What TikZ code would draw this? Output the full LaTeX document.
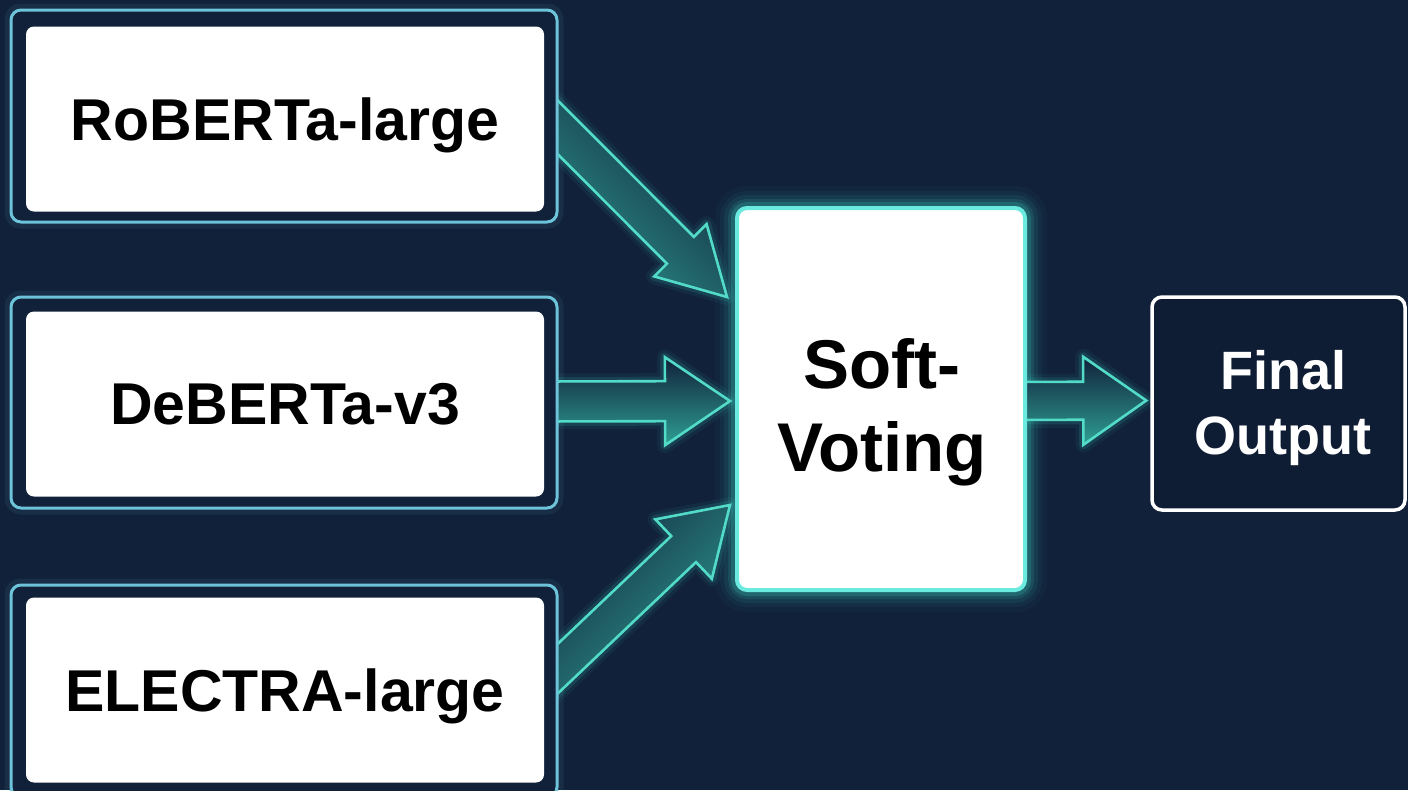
\documentclass[tikz,border=0pt]{standalone}
\usepackage{fontspec}
\setmainfont{Liberation Sans}
\usetikzlibrary{calc}

\definecolor{bgnavy}{HTML}{11213A}
\definecolor{framecol}{HTML}{6CC3DA}
\definecolor{glowcyan}{HTML}{3FE0D0}
\definecolor{svedge}{HTML}{6BEBE0}
\definecolor{arrowline}{HTML}{52DCC8}
\definecolor{arrowfill}{HTML}{2E9F93}
\definecolor{outfill}{HTML}{0F1D34}

\pgfdeclarelayer{backdrop}
\pgfdeclarelayer{glow}
\pgfsetlayers{backdrop,glow,main}

\tikzset{
  frame/.style={draw=framecol, line width=3pt, fill=bgnavy, rounded corners=10pt,
    minimum width=546pt, inner sep=0pt},
  model/.style={fill=white, rounded corners=8pt, minimum width=518pt, inner sep=0pt,
    text depth=0pt, text=black, font=\fontsize{59}{66}\selectfont\bfseries},
  votebox/.style={draw=svedge, line width=4pt, fill=white, rounded corners=10pt,
    minimum width=288pt, minimum height=382pt, inner sep=0pt},
  votetext/.style={align=center, inner sep=0pt, text=black,
    font=\fontsize{69}{83}\selectfont\bfseries},
  outbox/.style={draw=white, line width=3.5pt, fill=outfill, rounded corners=10pt,
    minimum width=253pt, minimum height=213pt, inner sep=0pt},
  outtext/.style={align=center, inner sep=0pt, text=white,
    font=\fontsize{54}{65}\selectfont\bfseries},
  arrowedge/.style={draw=arrowline, line width=2.6pt, line join=miter},
}

% block arrow: #1 tail, #2 tip, #3 half shaft width, #4 half head width,
% #5 head length, #6 shading angle
\newcommand\blockarrow[6]{%
  \coordinate (hb) at ($(#2)!#5pt!(#1)$);
  \foreach \gw/\go in {16/0.06, 9/0.12} {
    \path[draw=glowcyan, line width=\gw pt, opacity=\go, line join=round]
      ($(#1)!#3pt!90:(#2)$) -- ($(hb)!#3pt!90:(#2)$) -- ($(hb)!#4pt!90:(#2)$) --
      (#2) -- ($(hb)!#4pt!-90:(#2)$) -- ($(hb)!#3pt!-90:(#2)$) --
      ($(#1)!#3pt!-90:(#2)$) -- cycle;
  }
  \shade[arrowedge, left color=bgnavy, right color=arrowfill, shading angle=#6]
    ($(#1)!#3pt!90:(#2)$) -- ($(hb)!#3pt!90:(#2)$) -- ($(hb)!#4pt!90:(#2)$) --
    (#2) -- ($(hb)!#4pt!-90:(#2)$) -- ($(hb)!#3pt!-90:(#2)$) --
    ($(#1)!#3pt!-90:(#2)$) -- cycle;
}

\begin{document}
\begin{tikzpicture}[x=1pt,y=-1pt]
\begin{pgfonlayer}{backdrop}
  \fill[bgnavy] (0,0) rectangle (1408,790);
\end{pgfonlayer}
\useasboundingbox (0,0) rectangle (1408,790);

% ensemble members
\node[frame, minimum height=212pt] (robf) at (284,116) {};
\node[model, minimum height=185pt] (rob) at (285,119) {RoBERTa-large};
\node[frame, minimum height=211pt] (debf) at (284,402.5) {};
\node[model, minimum height=185pt] (deb) at (285,404) {DeBERTa-v3};
\node[frame, minimum height=212pt] (elef) at (284,691) {};
\node[model, minimum height=185pt] (ele) at (285,690) {ELECTRA-large};

% aggregation and result
\node[votebox] (sv) at (881,399) {};
\node[votetext] (svlabel) at (882,412) {Soft-\\Voting};
\node[outbox] (out) at (1278.5,403.5) {};
\node[outtext] (outlabel) at (1283,408) {Final\\Output};

% arrow end points
\coordinate (t1) at ($(robf.east)+(-40,-28)$);
\coordinate (e1) at ($(sv.west)+(-8,-102)$);
\coordinate (t2) at ($(debf.east)+(-20,-1)$);
\coordinate (e2) at ($(sv.west)+(-5,2)$);
\coordinate (t3) at ($(elef.east)+(-40,15)$);
\coordinate (e3) at ($(sv.west)+(-5,106)$);
\coordinate (t4) at ($(sv.east)+(-15,2)$);
\coordinate (e4) at ($(out.west)+(-4,-3)$);

\begin{pgfonlayer}{glow}
  % halo round the voting box
  \foreach \w/\o in {40/0.03, 30/0.05, 22/0.07, 14/0.11, 8/0.18} {
    \draw[glowcyan, line width=\w pt, opacity=\o, rounded corners=12pt]
      (sv.north west) rectangle (sv.south east);
  }
  % faint halo round the member frames
  \foreach \f in {robf,debf,elef} {
    \draw[framecol, line width=10pt, opacity=0.08, rounded corners=11pt]
      (\f.north west) rectangle (\f.south east);
  }
  \blockarrow{t1}{e1}{19}{37}{66}{-45}
  \blockarrow{t2}{e2}{20}{44}{65}{0}
  \blockarrow{t3}{e3}{18}{41}{64}{45}
  \blockarrow{t4}{e4}{19}{44}{63}{0}
\end{pgfonlayer}
\end{tikzpicture}
\end{document}
